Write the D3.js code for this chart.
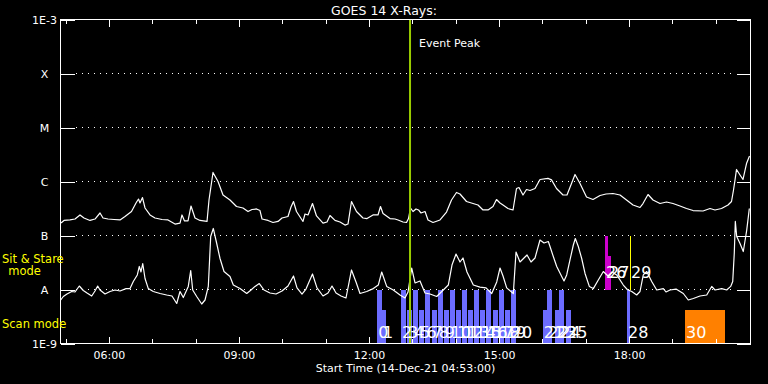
<!DOCTYPE html>
<html><head><meta charset="utf-8">
<script src="https://cdn.jsdelivr.net/npm/d3@7"></script>
<style>html,body{margin:0;padding:0;background:#000;} svg{display:block;}</style>
</head><body>
<svg id="c" width="768" height="384"></svg>
<script>
// ---------- data ----------
const titleText = "GOES 14 X-Rays:";
const xAxisTitle = "Start Time (14-Dec-21 04:53:00)";
const timeDomain = [4.8833, 20.8];            // UT hours
const minorHours = [5,7,8,10,11,13,14,16,17,19,20];
const majorHours = [6,9,12,15,18];
const majorLabels = ["06:00","09:00","12:00","15:00","18:00"];
const fluxTicks = [1e-9,1e-8,1e-7,1e-6,1e-5,1e-4,1e-3];
const fluxLabels = ["1E-9","A","B","C","M","X","1E-3"];
const gridLevels = [1e-8,1e-7,1e-6,1e-5,1e-4];
const eventPeakTime = 12.946;
const eventPeakLabel = "Event Peak";
const modeLabels = ["Sit & Stare", "mode", "Scan mode"];

// long channel (1-8 A)
const longTime = [
 4.895,4.964,5.102,5.218,5.333,5.425,5.564,5.679,5.795,5.864,
 5.979,6.117,6.256,6.371,6.521,6.625,6.683,6.717,6.775,6.833,
 6.948,7.063,7.225,7.363,7.525,7.640,7.686,7.744,7.825,7.894,
 7.940,7.986,8.101,8.263,8.309,8.401,8.517,8.632,8.793,8.943,
 9.093,9.209,9.301,9.405,9.485,9.532,9.670,9.785,9.901,9.993,
 10.131,10.200,10.258,10.327,10.477,10.523,10.593,10.696,10.789,10.939,
 11.031,11.100,11.215,11.331,11.446,11.515,11.596,11.711,11.861,11.954,
 12.092,12.207,12.265,12.323,12.484,12.600,12.669,12.784,12.865,12.911,
 12.957,13.015,13.084,13.142,13.199,13.292,13.361,13.476,13.638,13.788,
 13.903,14.018,14.099,14.249,14.399,14.514,14.630,14.745,14.860,14.941,
 15.022,15.091,15.206,15.322,15.402,15.460,15.552,15.633,15.714,15.829,
 15.944,16.129,16.210,16.325,16.475,16.567,16.752,16.867,17.017,17.167,
 17.329,17.467,17.628,17.790,17.940,18.090,18.251,18.320,18.436,18.551,
 18.713,18.863,19.012,19.174,19.324,19.474,19.705,19.866,19.981,20.131,
 20.281,20.362,20.408,20.443,20.477,20.558,20.627,20.708,20.777];
const longFlux = [
 1.70e-7,1.90e-7,1.94e-7,2.02e-7,2.40e-7,2.11e-7,1.90e-7,2.02e-7,2.61e-7,2.11e-7,
 2.02e-7,1.98e-7,1.94e-7,2.25e-7,2.78e-7,4.00e-7,4.74e-7,4.00e-7,5.05e-7,3.23e-7,
 2.40e-7,2.11e-7,1.98e-7,1.94e-7,1.63e-7,1.70e-7,2.40e-7,1.86e-7,1.86e-7,3.52e-7,
 2.72e-7,2.11e-7,1.90e-7,1.82e-7,4.54e-7,1.47e-6,1.00e-6,5.62e-7,4.54e-7,3.44e-7,
 3.23e-7,2.78e-7,3.03e-7,3.10e-7,2.90e-7,2.02e-7,1.90e-7,1.74e-7,1.82e-7,2.11e-7,
 2.25e-7,3.37e-7,4.26e-7,2.78e-7,1.82e-7,2.50e-7,2.40e-7,3.91e-7,2.30e-7,1.70e-7,
 1.78e-7,2.35e-7,1.90e-7,1.78e-7,1.56e-7,1.63e-7,4.26e-7,2.78e-7,2.11e-7,2.06e-7,
 2.40e-7,2.40e-7,3.44e-7,2.55e-7,2.06e-7,2.02e-7,1.94e-7,1.78e-7,1.74e-7,2.06e-7,
 3.23e-7,2.78e-7,3.10e-7,2.97e-7,2.61e-7,2.78e-7,1.94e-7,1.74e-7,1.94e-7,2.72e-7,
 4.54e-7,6.26e-7,5.87e-7,4.26e-7,3.91e-7,3.67e-7,2.97e-7,2.97e-7,3.44e-7,4.64e-7,
 4.00e-7,3.67e-7,3.16e-7,2.97e-7,7.42e-7,7.74e-7,5.62e-7,7.11e-7,6.81e-7,7.42e-7,
 1.09e-6,1.14e-6,1.07e-6,7.42e-7,5.62e-7,5.62e-7,1.35e-6,9.18e-7,5.16e-7,4.64e-7,
 5.51e-7,5.87e-7,5.99e-7,5.62e-7,4.54e-7,3.67e-7,3.30e-7,3.91e-7,5.74e-7,4.54e-7,
 3.91e-7,4.17e-7,3.91e-7,3.52e-7,3.16e-7,2.90e-7,2.84e-7,3.16e-7,2.97e-7,3.16e-7,
 3.67e-7,4.26e-7,6.96e-7,1.07e-6,1.67e-6,1.32e-6,1.09e-6,2.15e-6,2.97e-6];

// short channel (0.5-4 A)
const shortTime = [
 4.888,4.948,5.033,5.142,5.218,5.317,5.409,5.495,5.603,5.679,
 5.741,5.795,5.910,6.025,6.141,6.256,6.394,6.487,6.563,6.655,
 6.701,6.740,6.780,6.833,6.909,7.024,7.179,7.333,7.455,7.564,
 7.640,7.716,7.831,7.887,7.933,8.025,8.141,8.217,8.293,8.348,
 8.408,8.487,8.563,8.655,8.793,8.870,9.024,9.179,9.278,9.370,
 9.469,9.578,9.716,9.855,9.993,10.131,10.258,10.339,10.454,10.546,
 10.696,10.800,10.939,11.054,11.146,11.239,11.354,11.469,11.596,11.700,
 11.792,11.947,12.099,12.214,12.293,12.408,12.560,12.715,12.830,12.900,
 12.985,13.061,13.176,13.292,13.407,13.562,13.714,13.829,13.914,14.007,
 14.099,14.168,14.260,14.406,14.560,14.699,14.830,14.946,15.022,15.091,
 15.176,15.329,15.391,15.483,15.575,15.645,15.737,15.829,15.944,16.037,
 16.136,16.175,16.251,16.330,16.445,16.498,16.560,16.636,16.713,16.759,
 16.828,16.906,16.983,17.082,17.174,17.289,17.405,17.513,17.605,17.714,
 17.866,17.958,18.060,18.175,18.251,18.327,18.406,18.521,18.637,18.789,
 18.851,18.943,19.082,19.250,19.365,19.481,19.635,19.790,19.905,19.981,
 20.136,20.251,20.343,20.390,20.426,20.450,20.482,20.558,20.634,20.713,
 20.773];
const shortFlux = [
 6.39e-9,7.42e-9,8.25e-9,9.18e-9,8.99e-9,1.16e-8,9.58e-9,8.61e-9,7.58e-9,9.38e-9,
 1.16e-8,9.79e-9,8.25e-9,9.18e-9,9.79e-9,9.38e-9,1.04e-8,1.04e-8,1.41e-8,1.86e-8,
 2.67e-8,2.11e-8,3.03e-8,1.60e-8,1.04e-8,9.18e-9,8.43e-9,7.91e-9,7.58e-9,5.51e-9,
 9.18e-9,7.11e-9,1.14e-8,2.25e-8,9.79e-9,7.42e-9,5.39e-9,6.39e-9,1.14e-8,9.58e-8,
 1.35e-7,7.11e-8,3.75e-8,2.15e-8,1.74e-8,1.21e-8,1.04e-8,8.43e-9,9.79e-9,1.14e-8,
 1.29e-8,9.79e-9,8.61e-9,8.25e-9,9.38e-9,1.16e-8,1.78e-8,1.07e-8,8.25e-9,1.02e-8,
 1.94e-8,1.07e-8,7.58e-9,8.61e-9,1.16e-8,8.61e-9,7.58e-9,6.96e-9,2.30e-8,1.38e-8,
 8.43e-9,9.18e-9,1.04e-8,1.21e-8,2.11e-8,1.14e-8,9.79e-9,7.91e-9,6.96e-9,8.99e-9,
 2.50e-8,1.32e-8,1.44e-8,8.61e-9,8.25e-9,7.42e-9,9.79e-9,1.21e-8,2.84e-8,4.54e-8,
 3.23e-8,3.83e-8,2.11e-8,1.21e-8,1.11e-8,1.07e-8,8.43e-9,1.38e-8,2.50e-8,1.78e-8,
 1.07e-8,8.43e-9,4.95e-8,3.23e-8,3.83e-8,4.36e-8,3.23e-8,3.83e-8,8.25e-8,7.26e-8,
 7.74e-8,6.26e-8,4.08e-8,2.67e-8,1.74e-8,1.44e-8,1.86e-8,3.52e-8,6.67e-8,8.80e-8,
 6.26e-8,3.75e-8,1.98e-8,1.14e-8,1.04e-8,1.50e-8,2.15e-8,1.78e-8,2.11e-8,1.86e-8,
 1.21e-8,1.00e-8,9.18e-9,7.91e-9,9.18e-9,1.86e-8,2.15e-8,1.41e-8,9.79e-9,1.04e-8,
 8.99e-9,9.79e-9,1.02e-8,8.43e-9,6.39e-9,6.80e-9,7.58e-9,7.91e-9,1.14e-8,9.79e-9,
 1.04e-8,9.79e-9,1.14e-8,1.41e-8,4.74e-8,1.82e-7,9.58e-8,7.11e-8,5.05e-8,1.26e-7,
 3.16e-7];

// observing scans
const scanId = [0,1,2,3,4,5,6,7,8,9,10,11,12,13,14,15,16,17,18,19,20,21,22,23,24,25,26,27,28,29,30];
const scanStart = [12.191,12.300,12.738,12.879,13.020,13.160,13.301,13.442,13.583,13.724,
 13.864,14.005,14.146,14.287,14.428,14.568,14.709,14.850,14.991,15.132,
 15.272,16.007,16.113,16.290,16.390,16.544,17.444,17.513,17.951,18.021,19.290];
const scanEnd = [12.300,12.392,12.853,12.994,13.135,13.276,13.416,13.557,13.698,13.839,
 13.980,14.120,14.261,14.402,14.543,14.684,14.824,14.965,15.106,15.247,
 15.388,16.113,16.214,16.390,16.498,16.660,17.513,17.582,18.021,18.044,20.212];
const scanMode = ["scan","scan","scan","scan","scan","scan","scan","scan","scan","scan",
 "scan","scan","scan","scan","scan","scan","scan","scan","scan","scan",
 "scan","scan","scan","scan","scan","scan","stare","stare","scan","stare2","scan2"];
const scanCover = ["full","half","full","half","full","half","full","half","full","half",
 "full","half","full","half","full","half","full","half","full","half",
 "full","half","full","half","full","half","full","half","full","full","half"];

// ---------- drawing ----------
const W = 768, H = 384;
const L = 60.5, R = 750.5, T = 19.5, B = 343.5;
const FONT = "DejaVu Sans, Verdana, sans-serif";
const x = d3.scaleLinear().domain(timeDomain).range([L, R]);
const y = d3.scaleLog().domain([1e-9, 1e-3]).range([B, T]);
const svg = d3.select("#c");
svg.append("rect").attr("width", W).attr("height", H).attr("fill", "#000");

// grid (dotted)
svg.append("g").selectAll("line").data(gridLevels).join("line")
  .attr("x1", L + 15).attr("x2", R - 15)
  .attr("y1", d => y(d)).attr("y2", d => y(d))
  .attr("stroke", "#fff").attr("stroke-width", 1).attr("stroke-dasharray", "1,5")
  .attr("shape-rendering", "crispEdges");

// scans
const modeColor = d3.scaleOrdinal(["scan","stare","stare2","scan2"], ["#6c6cff","#cc00cc","#ffff00","#ff8000"]);
const band = m => (m === "scan" || m === "scan2") ? [1e-9, 1e-8] : [1e-8, 1e-7];
const scans = scanId.map((id, i) => ({id, s: scanStart[i], e: scanEnd[i], mode: scanMode[i], cover: scanCover[i]}));
function topY(d) {
  const [lo, hi] = band(d.mode);
  const y0 = y(lo), y1 = y(hi);
  return d.cover === "full" ? y1 : y0 - (y0 - y1) * 0.62;
}
svg.append("g").selectAll("rect").data(scans).join("rect")
  .attr("x", d => x(d.s)).attr("width", d => Math.max(1, x(d.e) - x(d.s)))
  .attr("y", d => topY(d)).attr("height", d => y(band(d.mode)[0]) - topY(d))
  .attr("fill", d => modeColor(d.mode)).attr("shape-rendering", "crispEdges");

// curves
const line = d3.line().x(d => x(d[0])).y(d => y(d[1]));
const longData = longTime.map((t, i) => [t, longFlux[i]]);
const shortData = shortTime.map((t, i) => [t, shortFlux[i]]);
[longData, shortData].forEach(ds => {
  svg.append("path").datum(ds).attr("d", line).attr("fill", "none")
    .attr("stroke", "#fff").attr("stroke-width", 1.2).attr("stroke-linejoin", "round");
});

// event peak
svg.append("line").attr("x1", x(eventPeakTime)).attr("x2", x(eventPeakTime))
  .attr("y1", T).attr("y2", B).attr("stroke", "#99cc00").attr("stroke-width", 2);
svg.append("text").attr("x", x(eventPeakTime) + 9).attr("y", 47)
  .attr("fill", "#fff").attr("font-family", FONT).attr("font-size", 11).text(eventPeakLabel);

// scan labels
svg.append("g").selectAll("text").data(scans).join("text")
  .attr("x", d => x(d.s) + 1)
  .attr("y", d => (d.mode === "stare" || d.mode === "stare2") ? 278 : 338)
  .attr("fill", "#fff").attr("font-family", FONT).attr("font-size", 16)
  .text(d => d.id);

// axes
function styleAxis(g) {
  g.select(".domain").remove();
  g.selectAll("line").attr("stroke", "#fff").attr("shape-rendering", "crispEdges");
  g.selectAll("text").attr("fill", "#fff").attr("font-family", FONT);
}
svg.append("g").attr("transform", `translate(0,${T})`)
  .call(d3.axisBottom(x).tickValues(minorHours).tickSize(4).tickFormat("")).call(styleAxis);
svg.append("g").attr("transform", `translate(0,${T})`)
  .call(d3.axisBottom(x).tickValues(majorHours).tickSize(7).tickFormat("")).call(styleAxis);
svg.append("g").attr("transform", `translate(0,${B})`)
  .call(d3.axisTop(x).tickValues(minorHours).tickSize(5).tickFormat("")).call(styleAxis);
svg.append("g").attr("transform", `translate(0,${B})`)
  .call(d3.axisTop(x).tickValues(majorHours).tickSize(7).tickFormat("")).call(styleAxis);
svg.append("g").attr("transform", `translate(0,${B})`)
  .call(d3.axisBottom(x).tickValues(majorHours).tickSize(0).tickPadding(8)
    .tickFormat((d, i) => majorLabels[i])).call(styleAxis)
  .selectAll("text").attr("font-size", 11);

svg.append("g").attr("transform", `translate(${L},0)`)
  .call(d3.axisRight(y).tickValues(fluxTicks).tickSize(14).tickFormat("")).call(styleAxis);
svg.append("g").attr("transform", `translate(${R},0)`)
  .call(d3.axisLeft(y).tickValues(fluxTicks).tickSize(14).tickFormat("")).call(styleAxis);
svg.append("g").attr("transform", `translate(44.5,0)`)
  .call(d3.axisLeft(y).tickValues(fluxTicks).tickSize(0).tickPadding(0)
    .tickFormat((d, i) => fluxLabels[i])).call(styleAxis)
  .selectAll("text").attr("text-anchor", "middle").attr("font-size", 11);

// frame
svg.append("rect").attr("x", L).attr("y", T).attr("width", R - L).attr("height", B - T)
  .attr("fill", "none").attr("stroke", "#fff").attr("shape-rendering", "crispEdges");

// titles
svg.append("text").attr("x", 384).attr("y", 15).attr("text-anchor", "middle")
  .attr("fill", "#fff").attr("font-family", FONT).attr("font-size", 12.5).text(titleText);
svg.append("text").attr("x", (L + R) / 2).attr("y", 372).attr("text-anchor", "middle")
  .attr("fill", "#fff").attr("font-family", FONT).attr("font-size", 11).text(xAxisTitle);

// mode labels
const ml = svg.append("g").attr("fill", "#ffff00").attr("font-family", FONT).attr("font-size", 11.5);
ml.append("text").attr("x", 2).attr("y", 263).text(modeLabels[0]);
ml.append("text").attr("x", 24.5).attr("y", 275).attr("text-anchor", "middle").text(modeLabels[1]);
ml.append("text").attr("x", 2).attr("y", 328).text(modeLabels[2]);
</script>
</body></html>
